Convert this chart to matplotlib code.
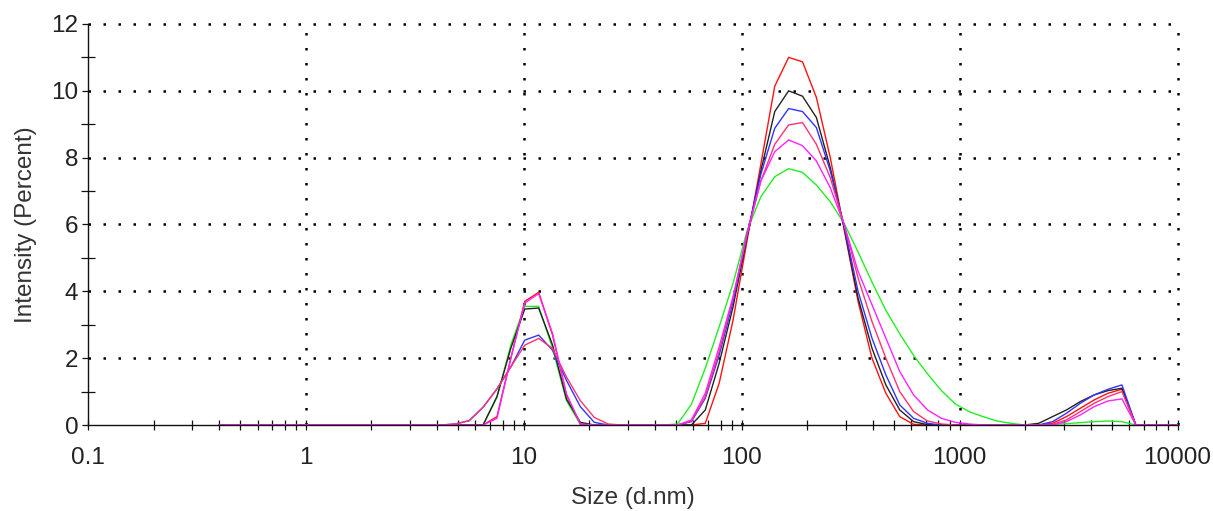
import matplotlib
matplotlib.use("Agg")
import matplotlib.pyplot as plt
from matplotlib.ticker import FixedLocator, LogLocator, NullFormatter, MultipleLocator

plt.rcParams['font.family'] = ['Liberation Sans', 'DejaVu Sans']

# Size bins (d.nm) - standard 70-bin distribution
sizes = [0.4, 0.4632, 0.5365, 0.6213, 0.7195, 0.8332, 0.9649, 1.117, 1.294, 1.499,
         1.736, 2.010, 2.328, 2.696, 3.122, 3.615, 4.187, 4.849, 5.615, 6.503,
         7.531, 8.721, 10.10, 11.70, 13.54, 15.69, 18.17, 21.04, 24.36, 28.21,
         32.67, 37.84, 43.82, 50.75, 58.77, 68.06, 78.82, 91.28, 105.7, 122.4,
         141.8, 164.2, 190.1, 220.2, 255.0, 295.3, 342.0, 396.1, 458.7, 531.2,
         615.1, 712.4, 825.0, 955.4, 1106, 1281, 1484, 1718, 1990, 2305,
         2669, 3091, 3580, 4145, 4801, 5560, 6439, 7456, 8635, 10000]

Z16 = [0.0] * 16

green = Z16 + [0, 0, 0, 0, 0.83, 2.4, 3.55, 3.55, 2.3, 0.73,
               0.02, 0, 0, 0, 0, 0, 0, 0.03, 0.62, 1.7,
               2.94, 4.24, 5.8, 6.83, 7.43, 7.67, 7.56, 7.18, 6.68, 6.03,
               5.18, 4.28, 3.43, 2.73, 2.08, 1.53, 1.03, 0.63, 0.4, 0.25,
               0.12, 0.05, 0, 0, 0.02, 0.04, 0.07, 0.1, 0.12, 0.1,
               0, 0, 0, 0]

red = Z16 + [0, 0, 0, 0, 0.25, 2.0, 3.7, 3.97, 2.7, 0.9,
             0.03, 0, 0, 0, 0, 0, 0, 0, 0, 0.05,
             1.25, 3.14, 5.5, 7.8, 10.14, 11.0, 10.87, 9.8, 8.0, 5.85,
             3.7, 2.0, 0.95, 0.25, 0.02, 0, 0, 0, 0, 0,
             0, 0, 0, 0, 0.05, 0.25, 0.5, 0.75, 0.95, 1.07,
             0, 0, 0, 0]

black = Z16 + [0, 0, 0, 0, 0.85, 2.3, 3.47, 3.5, 2.4, 0.78,
               0.08, 0, 0, 0, 0, 0, 0, 0, 0, 0.45,
               1.85, 3.54, 5.6, 7.6, 9.38, 10.0, 9.84, 9.2, 7.7, 5.9,
               3.8, 2.3, 1.2, 0.45, 0.1, 0.01, 0, 0, 0, 0,
               0, 0, 0, 0.05, 0.25, 0.45, 0.7, 0.9, 1.03, 1.1,
               0, 0, 0, 0]

blue = Z16 + [0, 0.03, 0.13, 0.53, 1.08, 1.74, 2.54, 2.69, 2.24, 1.34,
              0.55, 0.08, 0, 0, 0, 0, 0, 0, 0.1, 0.8,
              2.09, 3.69, 5.7, 7.5, 8.88, 9.47, 9.38, 8.9, 7.6, 5.95,
              4.0, 2.6, 1.5, 0.6, 0.2, 0.05, 0, 0, 0, 0,
              0, 0, 0, 0, 0.1, 0.35, 0.65, 0.9, 1.07, 1.2,
              0, 0, 0, 0]

pink = Z16 + [0, 0.03, 0.13, 0.53, 1.08, 1.74, 2.39, 2.59, 2.29, 1.44,
              0.73, 0.23, 0.03, 0, 0, 0, 0, 0, 0.12, 0.85,
              2.2, 3.8, 5.7, 7.3, 8.4, 8.98, 9.05, 8.4, 7.4, 6.0,
              4.4, 3.1, 2.0, 1.0, 0.4, 0.12, 0.03, 0, 0, 0,
              0, 0, 0, 0, 0.02, 0.15, 0.4, 0.65, 0.85, 1.0,
              0, 0, 0, 0]

magenta = Z16 + [0, 0, 0, 0, 0.2, 2.0, 3.65, 3.93, 2.74, 0.93,
                 0.03, 0, 0, 0, 0, 0, 0, 0, 0.15, 0.95,
                 2.34, 3.84, 5.7, 7.3, 8.18, 8.53, 8.36, 7.9, 7.1, 6.0,
                 4.6, 3.6, 2.6, 1.6, 0.9, 0.45, 0.2, 0.08, 0.03, 0,
                 0, 0, 0, 0, 0, 0.1, 0.3, 0.55, 0.72, 0.78,
                 0, 0, 0, 0]

series = [
    (green, '#22ee22'),
    (red, '#ff1111'),
    (black, '#222222'),
    (blue, '#3333ff'),
    (pink, '#ff3370'),
    (magenta, '#ff22ff'),
]

xticks = [0.1, 1, 10, 100, 1000, 10000]
xticklabels = ['0.1', '1', '10', '100', '1000', '10000']
yticks = [0, 2, 4, 6, 8, 10, 12]

fig = plt.figure(figsize=(12.13, 5.11), dpi=100)
ax = fig.add_axes([88 / 1213, 86 / 511, (1177.5 - 88) / 1213, (425 - 24) / 511])

for vals, col in series:
    ax.plot(sizes, vals, color=col, lw=1.0, solid_joinstyle='miter')

ax.set_xscale('log')
ax.set_xlim(0.1, 10000)
ax.set_ylim(0, 12)

ax.xaxis.set_major_locator(FixedLocator(xticks))
ax.set_xticklabels(xticklabels)
ax.xaxis.set_minor_locator(LogLocator(base=10, subs=[2, 3, 4, 5, 6, 7, 8, 9], numticks=20))
ax.xaxis.set_minor_formatter(NullFormatter())
ax.yaxis.set_major_locator(FixedLocator(yticks))
ax.yaxis.set_minor_locator(MultipleLocator(1))

for s in ['top', 'right']:
    ax.spines[s].set_visible(False)
for s in ['left', 'bottom']:
    ax.spines[s].set_linewidth(1.0)
    ax.spines[s].set_color('#111111')

grid_style = dict(color='black', lw=1.8, linestyle=(0, (1.0, 5.0)), dash_capstyle='butt')
for xv in xticks[1:]:
    ax.axvline(xv, **grid_style, zorder=0.5, clip_on=False)
for yv in yticks[1:]:
    ax.axhline(yv, **grid_style, zorder=0.5, clip_on=False)

ax.tick_params(axis='both', which='major', labelsize=17.5, width=0.9, color='#111111',
               labelcolor='#222222')
ax.tick_params(axis='x', which='major', direction='inout', length=7, pad=12)
ax.tick_params(axis='x', which='minor', direction='inout', length=7, width=0.9, color='#111111')
ax.tick_params(axis='y', which='major', direction='out', length=4, pad=3)
ax.tick_params(axis='y', which='minor', direction='inout', length=10, width=0.9, color='#111111')

ax.set_xlabel('Size (d.nm)', fontsize=17.5, color='#333333', labelpad=13)
ax.set_ylabel('Intensity (Percent)', fontsize=17.5, color='#333333', labelpad=10)

fig.savefig('out.png', dpi=100)
